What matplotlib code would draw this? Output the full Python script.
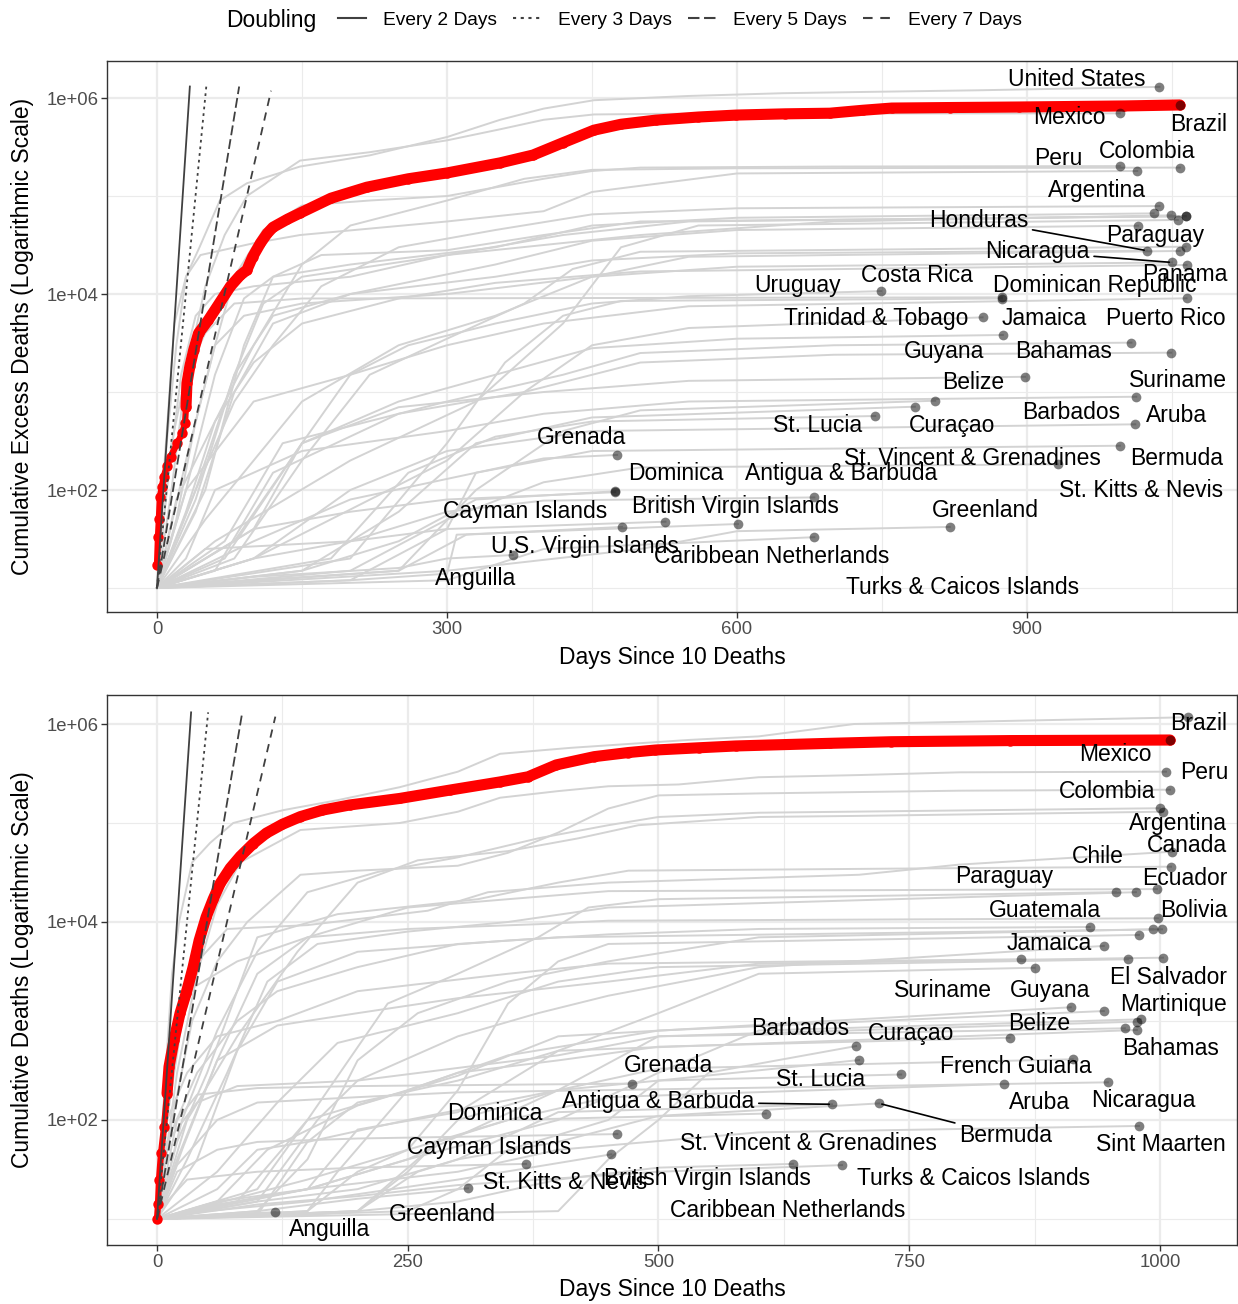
import numpy as np
import matplotlib
matplotlib.use("Agg")
import matplotlib.pyplot as plt
from matplotlib.lines import Line2D
from matplotlib.ticker import NullFormatter

plt.rcParams['font.family'] = ['Liberation Sans', 'DejaVu Sans']

# ---------------------------------------------------------------
# Doubling guides: start at 10 deaths on day 0
# ---------------------------------------------------------------
doubling_labels = ["Every 2 Days", "Every 3 Days", "Every 5 Days", "Every 7 Days"]
doubling_period = [2, 3, 5, 7]
doubling_last_day = [34, 51, 85, 118]

# ---------------------------------------------------------------
# Cumulative excess deaths (days since 10 deaths)
# ---------------------------------------------------------------
excess_names = [
    "United States", "Mexico", "Peru", "Ecuador", "Colombia", "Argentina", "Chile",
    "Canada", "Guatemala", "Bolivia", "Cuba", "El Salvador", "Honduras", "Paraguay",
    "Venezuela", "Nicaragua", "Panama", "Costa Rica", "Dominican Republic", "Uruguay",
    "Puerto Rico", "Trinidad & Tobago", "Jamaica", "Guyana", "Bahamas", "Belize",
    "Suriname", "Barbados", "Curaçao", "St. Lucia", "Aruba", "Bermuda",
    "St. Vincent & Grenadines", "Grenada", "Dominica", "Haiti", "Antigua & Barbuda",
    "Cayman Islands", "Sint Maarten", "British Virgin Islands", "Greenland",
    "Caribbean Netherlands", "U.S. Virgin Islands",
]
excess_days = [
    [0, 10, 20, 30, 44, 65, 93, 148, 220, 300, 355, 400, 452, 550, 647, 721, 850, 1037],
    [0, 15, 30, 50, 70, 93, 148, 220, 300, 355, 400, 452, 520, 600, 996],
    [0, 20, 40, 60, 80, 110, 150, 220, 300, 400, 450, 500, 700, 996],
    [0, 8, 18, 30, 45, 100, 148, 300, 400, 450, 600, 1014],
    [0, 30, 60, 100, 150, 200, 300, 380, 450, 600, 1058],
    [0, 40, 80, 120, 170, 250, 350, 450, 600, 1037],
    [0, 30, 60, 90, 120, 200, 350, 450, 600, 1031],
    [0, 10, 25, 40, 60, 100, 200, 300, 500, 700, 1049],
    [0, 40, 80, 110, 150, 300, 420, 550, 1064],
    [0, 50, 90, 120, 170, 300, 400, 500, 1064],
    [0, 60, 200, 330, 420, 480, 560, 1056],
    [0, 40, 80, 120, 200, 350, 450, 600, 1015],
    [0, 40, 80, 120, 200, 350, 450, 600, 1024],
    [0, 80, 150, 220, 300, 380, 430, 500, 1064],
    [0, 50, 150, 250, 350, 450, 550, 1058],
    [0, 30, 60, 90, 150, 300, 450, 600, 1050],
    [0, 20, 60, 100, 150, 250, 350, 500, 1065],
    [0, 70, 150, 200, 260, 350, 450, 550, 749],
    [0, 15, 30, 50, 80, 150, 874],
    [0, 200, 300, 360, 420, 480, 874],
    [0, 30, 100, 200, 300, 400, 550, 1065],
    [0, 100, 300, 380, 450, 550, 854],
    [0, 100, 150, 250, 350, 450, 600, 875],
    [0, 70, 130, 300, 420, 500, 700, 1008],
    [0, 60, 120, 250, 380, 500, 700, 1049],
    [0, 80, 150, 250, 400, 550, 898],
    [0, 30, 60, 150, 300, 400, 550, 1013],
    [0, 250, 330, 420, 500, 805],
    [0, 150, 250, 330, 450, 784],
    [0, 180, 260, 350, 450, 743],
    [0, 100, 200, 300, 450, 1012],
    [0, 100, 200, 330, 450, 996],
    [0, 200, 300, 400, 500, 932],
    [0, 200, 300, 330, 400, 476],
    [0, 150, 250, 330, 474],
    [0, 100, 200, 300, 474],
    [0, 100, 200, 300, 400, 680],
    [0, 100, 250, 320, 481],
    [0, 50, 200, 300, 526],
    [0, 200, 300, 310, 601],
    [0, 300, 500, 600, 820],
    [0, 300, 400, 680],
    [0, 100, 250, 300, 368],
]
excess_vals = [
    [10, 300, 3000, 15000, 30000, 90000, 135000, 200000, 260000, 400000, 600000, 780000, 950000, 1050000, 1120000, 1150000, 1200000, 1300000],
    [10, 100, 1500, 12000, 40000, 100000, 230000, 280000, 370000, 480000, 600000, 680000, 690000, 695000, 698000],
    [10, 50, 500, 3000, 15000, 45000, 80000, 90000, 100000, 150000, 180000, 195000, 200000, 202000],
    [10, 200, 5000, 15000, 25000, 33000, 40000, 55000, 70000, 110000, 170000, 180000],
    [10, 60, 500, 3000, 20000, 50000, 90000, 150000, 185000, 192000, 195000],
    [10, 100, 800, 3000, 12000, 30000, 45000, 65000, 75000, 79000],
    [10, 100, 1500, 9000, 15000, 20000, 30000, 50000, 60000, 66500],
    [10, 100, 1500, 6000, 10000, 12000, 15000, 25000, 40000, 55000, 63500],
    [10, 80, 1500, 8000, 15000, 25000, 40000, 55000, 62500],
    [10, 100, 3000, 15000, 25000, 28000, 40000, 55000, 62000],
    [10, 30, 200, 800, 5000, 30000, 50000, 57000],
    [10, 60, 1000, 5000, 10000, 20000, 35000, 45000, 49800],
    [10, 100, 1500, 6000, 10000, 15000, 22000, 26000, 27700],
    [10, 20, 200, 1500, 3500, 8000, 18000, 27000, 30400],
    [10, 50, 800, 3000, 6000, 15000, 24000, 27500],
    [10, 200, 3000, 6000, 8000, 10000, 15000, 19000, 21000],
    [10, 80, 500, 2000, 5000, 9000, 13000, 17000, 19800],
    [10, 20, 300, 1500, 3000, 5000, 8000, 9500, 10700],
    [10, 300, 1500, 4000, 8000, 9000, 9250],
    [10, 20, 300, 2000, 6000, 8500, 9000],
    [10, 100, 800, 1500, 3000, 5000, 7500, 9040],
    [10, 20, 200, 1000, 3000, 4500, 5780],
    [10, 40, 300, 800, 1500, 2800, 3500, 3820],
    [10, 30, 300, 800, 1500, 2500, 3000, 3190],
    [10, 15, 150, 600, 1000, 2000, 2400, 2520],
    [10, 30, 300, 700, 1000, 1300, 1430],
    [10, 20, 100, 250, 400, 600, 800, 895],
    [10, 15, 100, 400, 650, 815],
    [10, 15, 60, 300, 550, 708],
    [10, 20, 150, 350, 500, 569],
    [10, 20, 100, 250, 400, 468],
    [10, 30, 80, 150, 250, 283],
    [10, 15, 50, 120, 170, 183],
    [10, 12, 40, 150, 210, 228],
    [10, 15, 30, 80, 97],
    [10, 40, 60, 80, 95],
    [10, 20, 30, 60, 78, 84],
    [10, 12, 15, 35, 42],
    [10, 25, 30, 40, 47.5],
    [10, 12, 14, 35, 45],
    [10, 15, 25, 38, 42],
    [10, 12, 25, 33],
    [10, 13, 16, 20, 21.7],
]
brazil_excess_days = [0, 1, 2, 3, 5, 7, 10, 14, 21, 26, 29, 30, 31, 34, 38, 43, 53, 64, 76,
                      86, 93, 99, 107, 114, 120, 135, 148, 180, 217, 260, 300, 355, 389,
                      420, 452, 480, 516, 560, 599, 650, 696, 730, 760, 820, 892, 1000, 1058]
brazil_excess_vals = [17, 33, 51, 85, 108, 137, 174, 219, 300, 380, 480, 700, 1230, 1830,
                      2690, 3980, 5400, 7900, 12000, 15500, 17600, 24000, 33000, 41500,
                      48000, 58000, 67000, 95000, 123000, 150000, 172000, 218000, 262000,
                      350000, 470000, 540000, 595000, 640000, 670000, 690000, 700000,
                      750000, 790000, 800000, 810000, 830000, 850000]

# ---------------------------------------------------------------
# Cumulative reported deaths (days since 10 deaths)
# ---------------------------------------------------------------
deaths_names = [
    "United States", "Mexico", "Peru", "Colombia", "Argentina", "Canada", "Chile",
    "Ecuador", "Paraguay", "Honduras", "Bolivia", "Guatemala", "Costa Rica", "Panama",
    "Uruguay", "Jamaica", "El Salvador", "Dominican Republic", "Venezuela",
    "Trinidad & Tobago", "Suriname", "Guyana", "Martinique", "Guadeloupe", "Haiti",
    "Bahamas", "Belize", "Barbados", "Curaçao", "St. Lucia", "French Guiana", "Aruba",
    "Nicaragua", "Grenada", "Antigua & Barbuda", "Bermuda", "St. Vincent & Grenadines",
    "Sint Maarten", "Dominica", "Cayman Islands", "St. Kitts & Nevis",
    "British Virgin Islands", "Turks & Caicos Islands", "Greenland", "Anguilla",
]
deaths_days = [
    [0, 5, 10, 15, 22, 35, 53, 76, 126, 180, 242, 300, 342, 413, 530, 600, 695, 800, 1028],
    [0, 20, 40, 60, 83, 143, 242, 300, 342, 400, 450, 520, 600, 700, 800, 1006],
    [0, 15, 35, 60, 90, 143, 200, 300, 350, 400, 450, 500, 600, 800, 1010],
    [0, 25, 60, 100, 150, 220, 300, 380, 450, 500, 600, 1000],
    [0, 30, 80, 140, 200, 260, 350, 420, 480, 600, 700, 1003],
    [0, 10, 25, 45, 70, 150, 270, 330, 450, 700, 800, 1012],
    [0, 20, 50, 80, 100, 180, 320, 400, 470, 800, 1011],
    [0, 6, 15, 30, 80, 150, 250, 350, 450, 997],
    [0, 100, 150, 230, 300, 380, 430, 500, 956],
    [0, 30, 70, 110, 160, 250, 350, 450, 976],
    [0, 25, 60, 100, 150, 250, 380, 450, 998],
    [0, 40, 80, 120, 200, 350, 450, 600, 930],
    [0, 100, 150, 200, 260, 350, 450, 600, 993],
    [0, 10, 40, 80, 120, 200, 300, 400, 1002],
    [0, 150, 250, 300, 350, 400, 450, 979],
    [0, 100, 160, 200, 300, 380, 450, 600, 944],
    [0, 20, 60, 120, 200, 300, 450, 600, 1003],
    [0, 10, 30, 60, 120, 200, 350, 450, 861],
    [0, 60, 120, 180, 300, 400, 500, 968],
    [0, 150, 200, 300, 400, 500, 600, 875],
    [0, 60, 110, 200, 300, 400, 911],
    [0, 80, 150, 250, 350, 500, 944],
    [0, 80, 150, 250, 400, 500, 600, 981],
    [0, 60, 150, 250, 400, 500, 977],
    [0, 10, 40, 80, 200, 400, 500, 965],
    [0, 100, 150, 200, 300, 400, 977],
    [0, 150, 180, 250, 300, 400, 500, 850],
    [0, 400, 450, 500, 550, 697],
    [0, 200, 250, 300, 400, 500, 700],
    [0, 250, 300, 350, 450, 500, 742],
    [0, 60, 100, 150, 250, 400, 500, 913],
    [0, 150, 200, 250, 350, 450, 844],
    [0, 20, 60, 100, 200, 300, 948],
    [0, 20, 40, 100, 200, 474],
    [0, 200, 260, 300, 400, 673],
    [0, 100, 200, 300, 400, 500, 720],
    [0, 150, 200, 280, 350, 607],
    [0, 60, 150, 300, 400, 600, 979],
    [0, 20, 60, 100, 200, 459],
    [0, 50, 150, 300, 453],
    [0, 10, 30, 100, 200, 368],
    [0, 200, 300, 400, 500, 634],
    [0, 100, 200, 300, 500, 683],
    [0, 100, 200, 310],
    [0, 50, 118],
]
deaths_vals = [
    [10, 80, 500, 3000, 10000, 40000, 63000, 100000, 135000, 170000, 230000, 330000, 500000, 575000, 690000, 750000, 1000000, 1050000, 1170000],
    [10, 300, 3000, 15000, 40000, 85000, 100000, 130000, 180000, 210000, 235000, 245000, 290000, 305000, 325000, 330000],
    [10, 100, 1000, 4000, 10000, 30000, 33000, 37000, 50000, 80000, 140000, 190000, 199000, 212000, 217000],
    [10, 100, 800, 5000, 20000, 32000, 45000, 70000, 95000, 115000, 127000, 141000],
    [10, 100, 700, 5000, 25000, 42000, 52000, 70000, 95000, 115000, 118000, 130000],
    [10, 100, 1000, 4500, 8500, 9300, 13000, 20000, 25000, 30000, 38000, 51300],
    [10, 60, 300, 2000, 7000, 12000, 17000, 25000, 33000, 35000, 36200],
    [10, 100, 600, 2000, 4000, 7000, 14000, 17000, 20500, 21500],
    [10, 20, 100, 1500, 3000, 7000, 14000, 17000, 20000],
    [10, 40, 300, 2500, 6000, 8000, 10000, 14000, 20000],
    [10, 50, 400, 3000, 7000, 8500, 9500, 10300, 10900],
    [10, 40, 500, 2500, 5000, 6500, 7500, 8500, 8900],
    [10, 12, 40, 400, 1200, 2500, 4000, 7000, 8430],
    [10, 60, 300, 1000, 2000, 3500, 6000, 7000, 8430],
    [10, 25, 50, 200, 1500, 4000, 6000, 7400],
    [10, 15, 100, 250, 700, 1200, 1800, 3500, 5730],
    [10, 40, 400, 900, 1200, 1700, 2500, 3800, 4360],
    [10, 100, 300, 700, 1000, 2000, 3000, 3800, 4200],
    [10, 30, 150, 600, 1200, 2500, 3500, 4200],
    [10, 20, 80, 120, 500, 1200, 3000, 3450],
    [10, 15, 50, 140, 280, 700, 1375],
    [10, 15, 100, 200, 450, 800, 1260],
    [10, 15, 20, 40, 100, 300, 800, 1040],
    [10, 14, 20, 40, 200, 700, 985],
    [10, 60, 150, 220, 250, 450, 700, 843],
    [10, 11, 60, 150, 250, 500, 811],
    [10, 12, 30, 200, 300, 400, 550, 677],
    [10, 12, 40, 100, 300, 558],
    [10, 12, 30, 100, 200, 250, 403],
    [10, 12, 20, 50, 100, 250, 288],
    [10, 20, 50, 60, 100, 200, 330, 410],
    [10, 12, 30, 50, 100, 170, 231],
    [10, 35, 100, 150, 170, 190, 240],
    [10, 100, 180, 210, 220, 233],
    [10, 12, 30, 40, 120, 144],
    [10, 15, 20, 40, 60, 110, 147],
    [10, 11, 12, 60, 100, 116],
    [10, 15, 20, 30, 50, 75, 87],
    [10, 30, 50, 60, 65, 72],
    [10, 12, 15, 25, 45],
    [10, 15, 25, 30, 33, 36],
    [10, 12, 15, 25, 33, 36],
    [10, 14, 17, 22, 30, 35],
    [10, 12, 16, 20.4],
    [10, 11, 11.7],
]
brazil_deaths_days = [0, 1, 2, 4, 7, 10, 12, 17, 23, 29, 36, 42, 49, 56, 63, 73, 83, 96, 109,
                      125, 143, 165, 192, 242, 292, 342, 370, 398, 436, 470, 497, 540, 577,
                      671, 732, 850, 1010]
brazil_deaths_vals = [10, 14, 25, 46, 85, 185, 345, 645, 1200, 1900, 3500, 6500, 11200,
                      17000, 24500, 35000, 46000, 62000, 79000, 97000, 116000, 135000,
                      152000, 177000, 215000, 260000, 293000, 386000, 468000, 515000,
                      546000, 575000, 600000, 638000, 662000, 680000, 689000]

# ---------------------------------------------------------------
# Label placement (day, deaths) for each panel
# ---------------------------------------------------------------
excess_label_pos = {
    "United States": (951, 1.56e6), "Mexico": (944, 6.26e5), "Brazil": (1078, 5.43e5),
    "Peru": (932, 2.44e5), "Colombia": (1024, 2.88e5), "Argentina": (972, 1.15e5),
    "Honduras": (850, 5.69e4), "Paraguay": (1033, 3.91e4), "Nicaragua": (911, 2.69e4),
    "Panama": (1063, 1.60e4), "Uruguay": (663, 1.21e4), "Costa Rica": (786, 1.56e4),
    "Dominican Republic": (970, 1.21e4), "Trinidad & Tobago": (744, 5690),
    "Jamaica": (918, 5690), "Puerto Rico": (1044, 5690), "Guyana": (814, 2620),
    "Bahamas": (938, 2620), "Belize": (844, 1236), "Suriname": (1056, 1324),
    "Barbados": (946, 625), "Aruba": (1055, 582), "St. Lucia": (683, 450),
    "Curaçao": (822, 450), "Grenada": (439, 340), "St. Vincent & Grenadines": (844, 212),
    "Bermuda": (1055, 212), "Dominica": (537, 146), "Antigua & Barbuda": (708, 146),
    "St. Kitts & Nevis": (1018, 97.7), "Cayman Islands": (381, 59.7),
    "British Virgin Islands": (598, 67.1), "Greenland": (857, 62.5),
    "U.S. Virgin Islands": (443, 26.8), "Caribbean Netherlands": (636, 21.2),
    "Anguilla": (330, 12.6), "Turks & Caicos Islands": (833, 10),
}
excess_linked = ["Honduras", "Nicaragua"]

deaths_label_pos = {
    "Brazil": (1039, 1.02e6), "Mexico": (956, 4.87e5), "Peru": (1044, 3.2e5),
    "Colombia": (947, 2.1e5), "Argentina": (1018, 9.77e4), "Canada": (1027, 5.86e4),
    "Chile": (938, 4.64e4), "Ecuador": (1025, 2.72e4), "Paraguay": (845, 2.85e4),
    "Bolivia": (1034, 1.32e4), "Guatemala": (885, 1.32e4), "Jamaica": (890, 6000),
    "El Salvador": (1009, 2780), "Suriname": (784, 2010), "Guyana": (890, 2055),
    "Martinique": (1013, 1452), "Belize": (880, 933), "Barbados": (641, 830),
    "Curaçao": (752, 740), "Bahamas": (1011, 533), "Grenada": (510, 351),
    "French Guiana": (856, 343), "St. Lucia": (662, 259), "Aruba": (880, 149),
    "Nicaragua": (983, 156), "Dominica": (337, 115), "Antigua & Barbuda": (500, 152),
    "Bermuda": (846, 68.9), "St. Vincent & Grenadines": (650, 57.2),
    "Sint Maarten": (1001, 55.9), "Cayman Islands": (331, 53.3),
    "St. Kitts & Nevis": (407, 23.1), "British Virgin Islands": (549, 25.9),
    "Turks & Caicos Islands": (814, 25.9), "Greenland": (285, 11),
    "Caribbean Netherlands": (629, 12.3), "Anguilla": (172, 7.74),
}
deaths_linked = ["Antigua & Barbuda", "Bermuda"]

GUIDE_STYLES = ['-', (0, (1.5, 2.2)), (0, (5.5, 2.2)), (0, (4.6, 3.7))]
GUIDE_COLOR = '#404040'
LABEL_SIZE = 16.5


def draw_panel(ax, names, days, vals, br_days, br_vals, thick_from,
               label_pos, linked, xlim, ylim, xticks, xminor, ylabel):
    for d, v in zip(days, vals):
        ax.plot(d, v, color='#d3d3d3', lw=1.4, zorder=1)

    # Brazil highlighted in red
    ax.plot(br_days, br_vals, color='red', lw=4.5, marker='o', ms=7.5, mew=0, zorder=3)
    bd = np.array(br_days)
    bv = np.array(br_vals)
    keep = bd >= thick_from
    ax.plot(bd[keep], bv[keep], color='red', lw=8, solid_capstyle='round', zorder=3)

    for per, last, style in zip(doubling_period, doubling_last_day, GUIDE_STYLES):
        ax.plot([0, last], [10, 10 * 2 ** (last / per)], color=GUIDE_COLOR,
                lw=1.3, linestyle=style, zorder=4)

    # end points
    end_x = [d[-1] for d in days] + [br_days[-1]]
    end_y = [v[-1] for v in vals] + [br_vals[-1]]
    ax.plot(end_x, end_y, 'o', color='black', alpha=0.5, ms=7, mew=0, zorder=5)
    ends = {n: (d[-1], v[-1]) for n, d, v in zip(names, days, vals)}

    for name, (lx, ly) in label_pos.items():
        if name in linked:
            ax.annotate(name, xy=ends[name], xytext=(lx, ly), ha='center', va='center',
                        fontsize=LABEL_SIZE, zorder=6,
                        arrowprops=dict(arrowstyle='-', color='black', lw=1.2,
                                        shrinkA=1, shrinkB=2))
        else:
            ax.text(lx, ly, name, ha='center', va='center', fontsize=LABEL_SIZE, zorder=6)

    ax.set_yscale('log')
    ax.set_xlim(*xlim)
    ax.set_ylim(*ylim)
    ax.set_xticks(xticks, [str(t) for t in xticks])
    ax.set_xticks(xminor, minor=True)
    ax.set_yticks([1e2, 1e4, 1e6], ['1e+02', '1e+04', '1e+06'])
    ax.set_yticks([1e1, 1e3, 1e5], minor=True)
    ax.yaxis.set_minor_formatter(NullFormatter())
    ax.xaxis.set_minor_formatter(NullFormatter())

    ax.grid(True, which='major', color='#ebebeb', lw=1.6)
    ax.grid(True, which='minor', color='#ebebeb', lw=0.8)
    ax.set_axisbelow(True)
    ax.tick_params(which='major', length=4.3, width=1, color='#333333',
                   labelsize=13.3, labelcolor='#4d4d4d', pad=2)
    ax.tick_params(which='minor', length=0)
    for sp in ax.spines.values():
        sp.set_color('#333333')
        sp.set_linewidth(1.0)

    ax.set_xlabel("Days Since 10 Deaths", fontsize=16.5)
    ax.xaxis.label.set_va('center')
    ax.xaxis.set_label_coords(0.5, -0.0817)
    ax.set_ylabel(ylabel, fontsize=16.5)
    ax.yaxis.label.set_va('center')
    ax.yaxis.set_label_coords(-0.0752, 0.5)


fig = plt.figure(figsize=(12.38, 13.04), dpi=100)
W, H = 1238, 1304
ax1 = fig.add_axes([107 / W, 1 - 612 / H, 1130 / W, 551 / H])
ax2 = fig.add_axes([107 / W, 1 - 1245 / H, 1130 / W, 550 / H])

draw_panel(ax1, excess_names, excess_days, excess_vals,
           brazil_excess_days, brazil_excess_vals, 30,
           excess_label_pos, excess_linked,
           (-51.7, 1117.2), (10 ** 0.755, 10 ** 6.378),
           [0, 300, 600, 900], [150, 450, 750, 1050],
           "Cumulative Excess Deaths (Logarithmic Scale)")

draw_panel(ax2, deaths_names, deaths_days, deaths_vals,
           brazil_deaths_days, brazil_deaths_vals, 10,
           deaths_label_pos, deaths_linked,
           (-49.85, 1076.8), (10 ** 0.737, 10 ** 6.293),
           [0, 250, 500, 750, 1000], [125, 375, 625, 875],
           "Cumulative Deaths (Logarithmic Scale)")

# legend across the top
handles = [Line2D([], [], color=GUIDE_COLOR, lw=1.5, linestyle=s) for s in GUIDE_STYLES]
fig.legend(handles, doubling_labels, loc='center', bbox_to_anchor=(680 / W, 1 - 20 / H),
           ncol=4, frameon=False, fontsize=13.8, handlelength=1.46,
           handletextpad=0.9, columnspacing=0.83)
fig.text(226 / W, 1 - 20 / H, "Doubling", fontsize=16.5, ha='left', va='center')

fig.savefig("out.png", dpi=100)
